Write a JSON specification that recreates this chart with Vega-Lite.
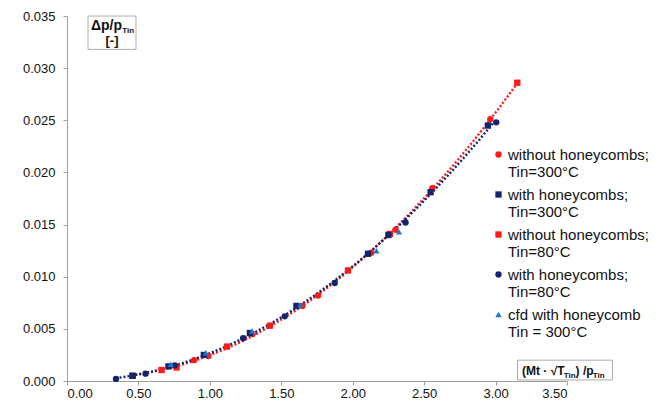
{
  "$schema": "https://vega.github.io/schema/vega-lite/v6.json",
  "autosize": {"type": "none"},
  "width": 500,
  "height": 365,
  "padding": {"left": 67, "top": 16, "right": 92, "bottom": 24},
  "background": "white",
  "config": {
    "view": {"stroke": null},
    "axis": {
      "grid": false,
      "domainColor": "#a0a0a0",
      "tickColor": "#a0a0a0",
      "tickSize": 4,
      "labelFont": "Liberation Sans",
      "labelFontSize": 13,
      "labelColor": "#111111",
      "title": null
    },
    "legend": {
      "labelFont": "Liberation Sans",
      "labelFontSize": 15,
      "labelColor": "#111111",
      "labelLimit": 0
    }
  },
  "datasets": {
    "pts": [
      {"series": "without honeycombs;|Tin=300°C", "x": 0.89, "y": 0.0020},
      {"series": "without honeycombs;|Tin=300°C", "x": 0.99, "y": 0.0024},
      {"series": "without honeycombs;|Tin=300°C", "x": 1.30, "y": 0.0045},
      {"series": "without honeycombs;|Tin=300°C", "x": 1.648, "y": 0.0072},
      {"series": "without honeycombs;|Tin=300°C", "x": 1.758, "y": 0.0082},
      {"series": "without honeycombs;|Tin=300°C", "x": 2.13, "y": 0.0123},
      {"series": "without honeycombs;|Tin=300°C", "x": 2.30, "y": 0.0145},
      {"series": "without honeycombs;|Tin=300°C", "x": 2.557, "y": 0.0185},
      {"series": "without honeycombs;|Tin=300°C", "x": 2.963, "y": 0.0251},
      {"series": "without honeycombs;|Tin=80°C", "x": 0.457, "y": 0.0005},
      {"series": "without honeycombs;|Tin=80°C", "x": 0.662, "y": 0.00105},
      {"series": "without honeycombs;|Tin=80°C", "x": 0.767, "y": 0.0013},
      {"series": "without honeycombs;|Tin=80°C", "x": 1.12, "y": 0.0033},
      {"series": "without honeycombs;|Tin=80°C", "x": 1.42, "y": 0.0053},
      {"series": "without honeycombs;|Tin=80°C", "x": 1.967, "y": 0.0106},
      {"series": "without honeycombs;|Tin=80°C", "x": 2.26, "y": 0.0141},
      {"series": "without honeycombs;|Tin=80°C", "x": 3.152, "y": 0.0286},
      {"series": "with honeycombs;|Tin=300°C", "x": 0.46, "y": 0.0005},
      {"series": "with honeycombs;|Tin=300°C", "x": 0.71, "y": 0.0014},
      {"series": "with honeycombs;|Tin=300°C", "x": 0.958, "y": 0.0025},
      {"series": "with honeycombs;|Tin=300°C", "x": 1.28, "y": 0.0046},
      {"series": "with honeycombs;|Tin=300°C", "x": 1.606, "y": 0.0072},
      {"series": "with honeycombs;|Tin=300°C", "x": 2.107, "y": 0.0122},
      {"series": "with honeycombs;|Tin=300°C", "x": 2.25, "y": 0.0140},
      {"series": "with honeycombs;|Tin=300°C", "x": 2.545, "y": 0.0181},
      {"series": "with honeycombs;|Tin=300°C", "x": 2.946, "y": 0.0245},
      {"series": "with honeycombs;|Tin=80°C", "x": 0.343, "y": 0.0002},
      {"series": "with honeycombs;|Tin=80°C", "x": 0.55, "y": 0.0007},
      {"series": "with honeycombs;|Tin=80°C", "x": 0.755, "y": 0.0015},
      {"series": "with honeycombs;|Tin=80°C", "x": 1.233, "y": 0.0041},
      {"series": "with honeycombs;|Tin=80°C", "x": 1.524, "y": 0.0062},
      {"series": "with honeycombs;|Tin=80°C", "x": 1.874, "y": 0.0094},
      {"series": "with honeycombs;|Tin=80°C", "x": 2.37, "y": 0.0152},
      {"series": "with honeycombs;|Tin=80°C", "x": 3.005, "y": 0.0248},
      {"series": "cfd with honeycomb|Tin = 300°C", "x": 0.727, "y": 0.0016},
      {"series": "cfd with honeycomb|Tin = 300°C", "x": 0.972, "y": 0.0027},
      {"series": "cfd with honeycomb|Tin = 300°C", "x": 1.296, "y": 0.0048},
      {"series": "cfd with honeycomb|Tin = 300°C", "x": 1.634, "y": 0.0073},
      {"series": "cfd with honeycomb|Tin = 300°C", "x": 2.166, "y": 0.0125},
      {"series": "cfd with honeycomb|Tin = 300°C", "x": 2.324, "y": 0.0143}
    ],
    "one": [{}]
  },
  "layer": [
    {
      "data": {"name": "pts"},
      "transform": [
        {"filter": "indexof(datum.series, 'without') == 0"},
        {"regression": "y", "on": "x", "method": "poly", "order": 2, "extent": [0.45, 3.15]}
      ],
      "mark": {"type": "line", "color": "#ff1a1a", "strokeWidth": 2.4, "strokeDash": [2, 2]},
      "encoding": {
        "x": {"field": "x", "type": "quantitative", "scale": {"domain": [0, 3.5], "nice": false},
              "axis": {"values": [0, 0.5, 1, 1.5, 2, 2.5, 3, 3.5], "format": ".2f", "labelPadding": 2, "labelDx": 2}},
        "y": {"field": "y", "type": "quantitative", "scale": {"domain": [0, 0.035], "nice": false},
              "axis": {"values": [0, 0.005, 0.01, 0.015, 0.02, 0.025, 0.03, 0.035], "format": ".3f", "labelPadding": 8}}
      }
    },
    {
      "data": {"name": "pts"},
      "transform": [
        {"filter": "indexof(datum.series, 'with ') == 0"},
        {"regression": "y", "on": "x", "method": "poly", "order": 2, "extent": [0.34, 3.0]}
      ],
      "mark": {"type": "line", "color": "#14246b", "strokeWidth": 2.4, "strokeDash": [2, 2]},
      "encoding": {
        "x": {"field": "x", "type": "quantitative"},
        "y": {"field": "y", "type": "quantitative"}
      }
    },
    {
      "data": {"name": "pts"},
      "mark": {"type": "point", "filled": true, "opacity": 1},
      "encoding": {
        "x": {"field": "x", "type": "quantitative"},
        "y": {"field": "y", "type": "quantitative"},
        "color": {
          "field": "series", "type": "nominal",
          "scale": {
            "domain": ["without honeycombs;|Tin=300°C", "with honeycombs;|Tin=300°C", "without honeycombs;|Tin=80°C", "with honeycombs;|Tin=80°C", "cfd with honeycomb|Tin = 300°C"],
            "range": ["#ff1a1a", "#14246b", "#ff1a1a", "#14246b", "#1e78c8"]
          },
          "legend": {
            "orient": "none", "legendX": 424, "legendY": 131, "title": null,
            "labelExpr": "split(datum.label, '|')",
            "labelBaseline": "middle", "labelOffset": 2, "rowPadding": 7, "symbolSize": 22
          }
        },
        "shape": {
          "field": "series", "type": "nominal",
          "scale": {
            "domain": ["without honeycombs;|Tin=300°C", "with honeycombs;|Tin=300°C", "without honeycombs;|Tin=80°C", "with honeycombs;|Tin=80°C", "cfd with honeycomb|Tin = 300°C"],
            "range": ["circle", "square", "square", "circle", "triangle-up"]
          }
        },
        "size": {
          "field": "series", "type": "nominal", "legend": null,
          "scale": {
            "domain": ["without honeycombs;|Tin=300°C", "with honeycombs;|Tin=300°C", "without honeycombs;|Tin=80°C", "with honeycombs;|Tin=80°C", "cfd with honeycomb|Tin = 300°C"],
            "range": [40, 40, 40, 40, 110]
          }
        }
      }
    },
    {
      "data": {"name": "one"},
      "mark": {"type": "rect", "fill": "white", "stroke": "#aaaaaa", "strokeWidth": 1},
      "encoding": {
        "x": {"datum": 0.147}, "x2": {"datum": 0.483},
        "y": {"datum": 0.0350}, "y2": {"datum": 0.0318}
      }
    },
    {
      "data": {"name": "one"},
      "mark": {"type": "text", "align": "right", "baseline": "alphabetic", "font": "Liberation Sans", "fontWeight": "bold", "fontSize": 14, "color": "#111"},
      "encoding": {"x": {"datum": 0.385}, "y": {"datum": 0.03365}, "text": {"value": "Δp/p"}}
    },
    {
      "data": {"name": "one"},
      "mark": {"type": "text", "align": "left", "baseline": "alphabetic", "font": "Liberation Sans", "fontWeight": "bold", "fontSize": 8, "color": "#111"},
      "encoding": {"x": {"datum": 0.387}, "y": {"datum": 0.03337}, "text": {"value": "Tin"}}
    },
    {
      "data": {"name": "one"},
      "mark": {"type": "text", "align": "center", "baseline": "alphabetic", "font": "Liberation Sans", "fontWeight": "bold", "fontSize": 13, "color": "#111"},
      "encoding": {"x": {"datum": 0.315}, "y": {"datum": 0.03222}, "text": {"value": "[-]"}}
    },
    {
      "data": {"name": "one"},
      "mark": {"type": "rect", "fill": "white", "stroke": "#aaaaaa", "strokeWidth": 1},
      "encoding": {
        "x": {"datum": 3.154}, "x2": {"datum": 3.818},
        "y": {"datum": 0.0020}, "y2": {"datum": 0.0001}
      }
    },
    {
      "data": {"name": "one"},
      "mark": {"type": "text", "align": "left", "baseline": "alphabetic", "font": "Liberation Sans", "fontWeight": "bold", "fontSize": 12, "color": "#111"},
      "encoding": {"x": {"datum": 3.185}, "y": {"datum": 0.00058}, "text": {"value": "(Mt · √T"}}
    },
    {
      "data": {"name": "one"},
      "mark": {"type": "text", "align": "left", "baseline": "alphabetic", "font": "Liberation Sans", "fontWeight": "bold", "fontSize": 8, "color": "#111"},
      "encoding": {"x": {"datum": 3.478}, "y": {"datum": 0.00029}, "text": {"value": "Tin"}}
    },
    {
      "data": {"name": "one"},
      "mark": {"type": "text", "align": "left", "baseline": "alphabetic", "font": "Liberation Sans", "fontWeight": "bold", "fontSize": 12, "color": "#111"},
      "encoding": {"x": {"datum": 3.56}, "y": {"datum": 0.00058}, "text": {"value": ") /p"}}
    },
    {
      "data": {"name": "one"},
      "mark": {"type": "text", "align": "left", "baseline": "alphabetic", "font": "Liberation Sans", "fontWeight": "bold", "fontSize": 8, "color": "#111"},
      "encoding": {"x": {"datum": 3.68}, "y": {"datum": 0.00029}, "text": {"value": "Tin"}}
    }
  ]
}
